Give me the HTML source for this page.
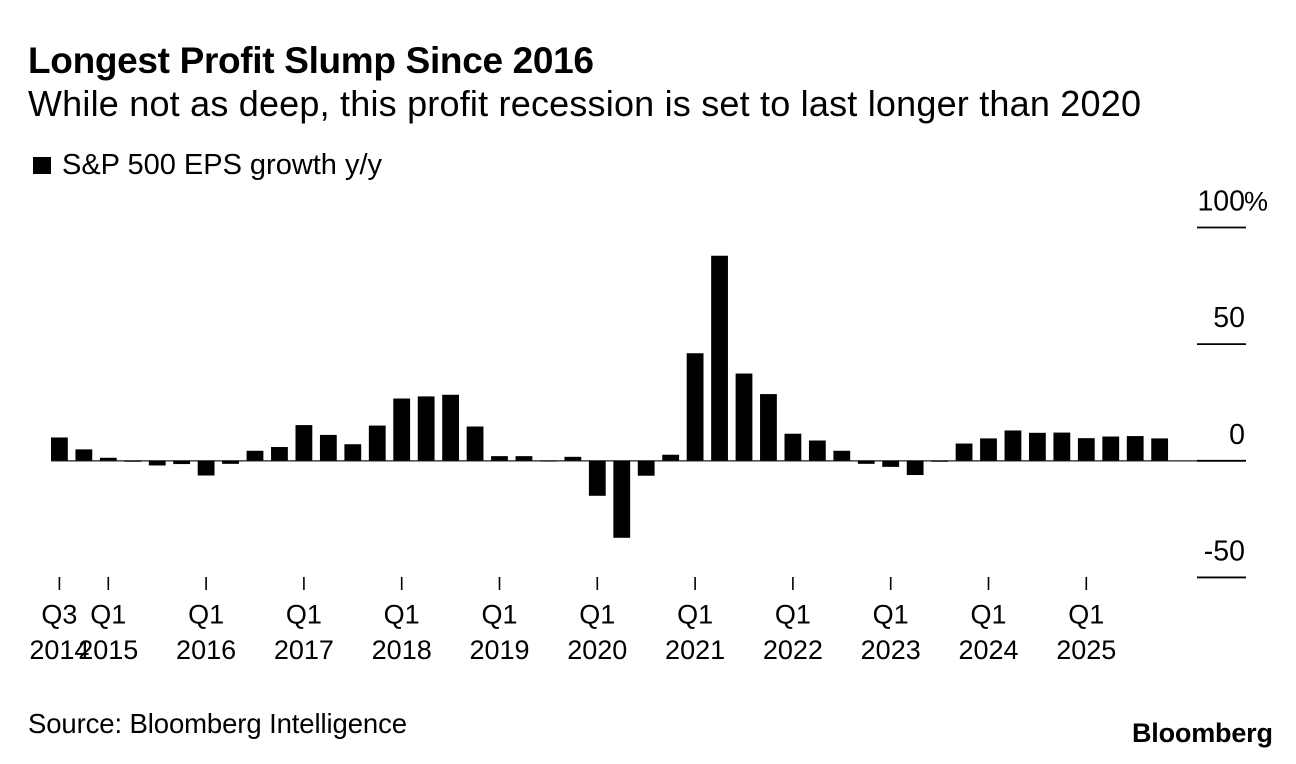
<!DOCTYPE html>
<html lang="en">
<head>
<meta charset="utf-8">
<title>Longest Profit Slump Since 2016</title>
<style>
html,body{margin:0;padding:0;background:#fff;}
svg{display:block;}
text{font-family:"Liberation Sans",Arial,sans-serif;fill:#000;}
</style>
</head>
<body>
<svg id="chart" xmlns="http://www.w3.org/2000/svg" width="1296" height="764" viewBox="0 0 1296 764">
  <rect x="0" y="0" width="1296" height="764" fill="#fff"/>
  <text x="28" y="73" font-size="37" font-weight="700" textLength="566" lengthAdjust="spacing">Longest Profit Slump Since 2016</text>
  <text x="28" y="116" font-size="36" textLength="1113" lengthAdjust="spacing">While not as deep, this profit recession is set to last longer than 2020</text>
  <rect x="33" y="157" width="18" height="17" fill="#000"/>
  <text x="62" y="174" font-size="29" textLength="320" lengthAdjust="spacing">S&amp;P 500 EPS growth y/y</text>
  <g id="y-axis"></g>
  <g id="bars"></g>
  <g id="x-axis"></g>
  <text x="28" y="733" font-size="27.5" textLength="379" lengthAdjust="spacing">Source: Bloomberg Intelligence</text>
  <text x="1132" y="742" font-size="27" font-weight="700" textLength="141" lengthAdjust="spacing">Bloomberg</text>
</svg>
<script>
const categories = ["Q3 2014","Q4 2014","Q1 2015","Q2 2015","Q3 2015","Q4 2015","Q1 2016","Q2 2016","Q3 2016","Q4 2016","Q1 2017","Q2 2017","Q3 2017","Q4 2017","Q1 2018","Q2 2018","Q3 2018","Q4 2018","Q1 2019","Q2 2019","Q3 2019","Q4 2019","Q1 2020","Q2 2020","Q3 2020","Q4 2020","Q1 2021","Q2 2021","Q3 2021","Q4 2021","Q1 2022","Q2 2022","Q3 2022","Q4 2022","Q1 2023","Q2 2023","Q3 2023","Q4 2023","Q1 2024","Q2 2024","Q3 2024","Q4 2024","Q1 2025","Q2 2025","Q3 2025","Q4 2025"];
const epsGrowth = [10,4.9,1.3,-0.4,-2,-1.4,-6.3,-1.3,4.3,5.9,15.3,11.1,7.1,15.1,26.7,27.6,28.3,14.7,2,2,-0.3,1.7,-15,-33,-6.4,2.6,46.1,87.9,37.4,28.6,11.6,8.7,4.3,-1.3,-2.6,-6.1,-0.4,7.4,9.6,13,12,12.1,9.7,10.4,10.6,9.6];
const yTicks = [100,50,0,-50];
const xTickCategories = ["Q3 2014","Q1 2015","Q1 2016","Q1 2017","Q1 2018","Q1 2019","Q1 2020","Q1 2021","Q1 2022","Q1 2023","Q1 2024","Q1 2025"];

const NS = "http://www.w3.org/2000/svg";
function yScale(v){ return 460.8 - v * 2.333; }
function xScale(i){ return 59.4 + i * 24.45; }
function make(tag, attrs, parent){
  const el = document.createElementNS(NS, tag);
  for (const k in attrs) el.setAttribute(k, attrs[k]);
  parent.appendChild(el);
  return el;
}
const barsG = document.getElementById("bars");
const xG = document.getElementById("x-axis");
const yG = document.getElementById("y-axis");

yTicks.forEach(function(t){
  const line = make("line", {x1:1197, x2:1246, y1:yScale(t), y2:yScale(t), stroke:"#000", "stroke-width":1.8}, yG);
  
  
  const label = make("text", {x:1245, y:yScale(t)-17, "font-size":28.5, "text-anchor":"end"}, yG);
  label.textContent = String(t);
  
  
  if (t === yTicks[0]) {
    const pct = make("text", {x:1244, y:yScale(t)-17, "font-size":27}, yG);
    pct.textContent = "%";
    
    
  }
});

const baseline = make("line", {x1:51, x2:1197, y1:yScale(0), y2:yScale(0), stroke:"#555", "stroke-width":1.6}, yG);



epsGrowth.forEach(function(v, i){
  const top = Math.min(yScale(v), yScale(0));
  const h = Math.abs(yScale(v) - yScale(0));
  const bar = make("rect", {x:xScale(i)-8.4, y:top, width:16.8, height:h, fill:"#000"}, barsG);
  
  
});

xTickCategories.forEach(function(c){
  const i = categories.indexOf(c);
  const parts = c.split(" ");
  const x = xScale(i);
  const tick = make("line", {x1:x, x2:x, y1:577, y2:590, stroke:"#000", "stroke-width":1.6}, xG);
  
  
  const q = make("text", {x:x, y:623.5, "font-size":27, "text-anchor":"middle"}, xG);
  q.textContent = parts[0];
  
  
  const yr = make("text", {x:x, y:659, "font-size":27, "text-anchor":"middle"}, xG);
  yr.textContent = parts[1];
  
  
});
</script>
</body>
</html>
